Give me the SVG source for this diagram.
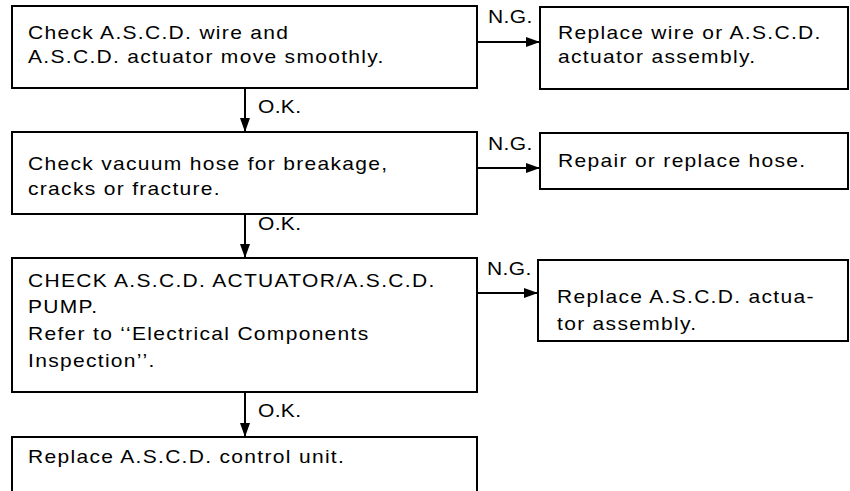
<svg xmlns="http://www.w3.org/2000/svg" width="850" height="491" viewBox="0 0 850 491">
<style>
  .box { fill: #ffffff; stroke: #000000; stroke-width: 2; }
  .t { font-family: "Liberation Sans", Arial, Helvetica, sans-serif; font-size: 17.5px; letter-spacing: 1.1px; fill: #000000; }
  .lbl { font-family: "Liberation Sans", Arial, Helvetica, sans-serif; font-size: 17.5px; letter-spacing: 0.3px; fill: #000000; }
  .conn { stroke: #000000; stroke-width: 2; fill: none; }
</style>
<defs>
  <marker id="arr" viewBox="0 0 14 10" refX="14" refY="5" markerWidth="14" markerHeight="10" markerUnits="userSpaceOnUse" orient="auto">
    <path d="M0,0 L14,5 L0,10 Z" fill="#000000"/>
  </marker>
</defs>
<rect width="850" height="491" fill="#ffffff"/>

<g id="connectors">
  <line class="conn" x1="477" y1="42" x2="540" y2="42" marker-end="url(#arr)"/>
  <line class="conn" x1="477" y1="168" x2="540" y2="168" marker-end="url(#arr)"/>
  <line class="conn" x1="477" y1="293" x2="538" y2="293" marker-end="url(#arr)"/>
  <line class="conn" x1="245" y1="88" x2="245" y2="132" marker-end="url(#arr)"/>
  <line class="conn" x1="245" y1="214" x2="245" y2="258" marker-end="url(#arr)"/>
  <line class="conn" x1="245" y1="392" x2="245" y2="437" marker-end="url(#arr)"/>
  <text class="lbl" transform="translate(488 23) scale(1.2 1)">N.G.</text>
  <text class="lbl" transform="translate(488 150) scale(1.2 1)">N.G.</text>
  <text class="lbl" transform="translate(487 275) scale(1.2 1)">N.G.</text>
  <text class="lbl" transform="translate(258 113) scale(1.2 1)">O.K.</text>
  <text class="lbl" transform="translate(258 230) scale(1.2 1)">O.K.</text>
  <text class="lbl" transform="translate(258 417) scale(1.2 1)">O.K.</text>
</g>

<g id="n1">
  <rect class="box" x="12" y="6" width="465" height="82"/>
  <g transform="translate(28 0) scale(1.2 1)">
    <text class="t" x="0" y="39">Check A.S.C.D. wire and</text>
    <text class="t" x="0" y="63">A.S.C.D. actuator move smoothly.</text>
  </g>
</g>
<g id="n2">
  <rect class="box" x="540" y="7" width="308" height="82"/>
  <g transform="translate(558 0) scale(1.2 1)">
    <text class="t" x="0" y="39">Replace wire or A.S.C.D.</text>
    <text class="t" x="0" y="63">actuator assembly.</text>
  </g>
</g>
<g id="n3">
  <rect class="box" x="12" y="132" width="465" height="82"/>
  <g transform="translate(28 0) scale(1.2 1)">
    <text class="t" x="0" y="170">Check vacuum hose for breakage,</text>
    <text class="t" x="0" y="195">cracks or fracture.</text>
  </g>
</g>
<g id="n4">
  <rect class="box" x="540" y="133" width="308" height="56"/>
  <g transform="translate(558 0) scale(1.2 1)">
    <text class="t" x="0" y="167">Repair or replace hose.</text>
  </g>
</g>
<g id="n5">
  <rect class="box" x="12" y="258" width="465" height="134"/>
  <g transform="translate(28 0) scale(1.2 1)">
    <text class="t" x="0" y="287">CHECK A.S.C.D. ACTUATOR/A.S.C.D.</text>
    <text class="t" x="0" y="313">PUMP.</text>
    <text class="t" x="0" y="340">Refer to ‘‘Electrical Components</text>
    <text class="t" x="0" y="367">Inspection’’.</text>
  </g>
</g>
<g id="n6">
  <rect class="box" x="538" y="260" width="310" height="81"/>
  <g transform="translate(557 0) scale(1.2 1)">
    <text class="t" x="0" y="303">Replace A.S.C.D. actua-</text>
    <text class="t" x="0" y="330">tor assembly.</text>
  </g>
</g>
<g id="n7">
  <rect class="box" x="12" y="437" width="465" height="70"/>
  <g transform="translate(28 0) scale(1.2 1)">
    <text class="t" x="0" y="463">Replace A.S.C.D. control unit.</text>
  </g>
</g>
</svg>
